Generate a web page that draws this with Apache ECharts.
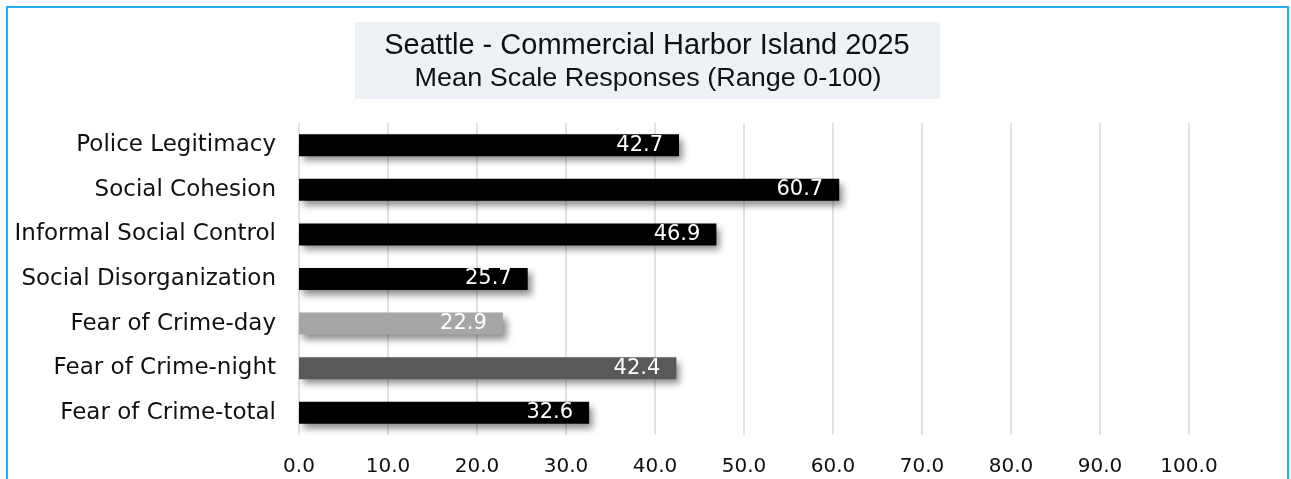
<!DOCTYPE html>
<html>
<head>
<meta charset="utf-8">
<script src="https://cdn.jsdelivr.net/npm/echarts@6/dist/echarts.min.js"></script>
<style>
html,body{margin:0;padding:0;background:#fff;}
#frame{position:absolute;left:6px;top:6px;width:1279px;height:500px;border:2px solid #22b0ee;border-bottom:none;}
#chart{position:absolute;left:0;top:0;width:1291px;height:479px;}
</style>
</head>
<body>
<div id="frame"></div>
<div id="chart"></div>
<script>
const categories = ['Police Legitimacy','Social Cohesion','Informal Social Control','Social Disorganization','Fear of Crime-day','Fear of Crime-night','Fear of Crime-total'];
const values = [42.7, 60.7, 46.9, 25.7, 22.9, 42.4, 32.6];
const barColors = ['#000000','#000000','#000000','#000000','#a6a6a6','#595959','#000000'];
const titleText = 'Seattle - Commercial Harbor Island 2025';
const subtitleText = 'Mean Scale Responses (Range 0-100)';
const axisMin = 0, axisMax = 100, axisStep = 10;

const chart = echarts.init(document.getElementById('chart'), null, {renderer:'canvas'});
const labelFont = 'DejaVu Sans';
chart.setOption({
  animation:false,
  backgroundColor:'transparent',
  graphic:[
    {type:'rect', left:355, top:22, shape:{width:585, height:77}, style:{fill:'#eef2f6'}},
    {type:'text', x:647, y:46, style:{text:titleText, font:'29px "Liberation Sans"', fill:'#111', textAlign:'center', textVerticalAlign:'middle'}},
    {type:'text', x:648, y:79, scaleX:1.08, style:{text:subtitleText, font:'25px "Liberation Sans"', fill:'#111', textAlign:'center', textVerticalAlign:'middle'}}
  ],
  grid:{left:299, right:102, top:123, bottom:44, containLabel:false},
  xAxis:{
    type:'value', min:axisMin, max:axisMax, interval:axisStep,
    axisLine:{show:false}, axisTick:{show:false},
    splitLine:{show:true, lineStyle:{color:'#d9d9d9', width:1.5}},
    axisLabel:{formatter:v=>v.toFixed(1), color:'#111', fontFamily:labelFont, fontSize:20, margin:22}
  },
  yAxis:{
    type:'category', data:categories, inverse:true,
    axisLine:{show:false}, axisTick:{show:false},
    axisLabel:{color:'#111', fontFamily:labelFont, fontSize:23, margin:23}
  },
  series:[{
    type:'bar', barWidth:22,
    data:values.map((v,i)=>({value:v, itemStyle:{color:barColors[i]}})),
    itemStyle:{shadowColor:'rgba(0,0,0,0.45)', shadowBlur:7, shadowOffsetX:4, shadowOffsetY:5},
    label:{show:true, position:'insideRight', distance:16, color:'#fff', fontFamily:labelFont, fontSize:21, formatter:p=>p.value.toFixed(1)}
  }]
});
</script>
</body>
</html>
